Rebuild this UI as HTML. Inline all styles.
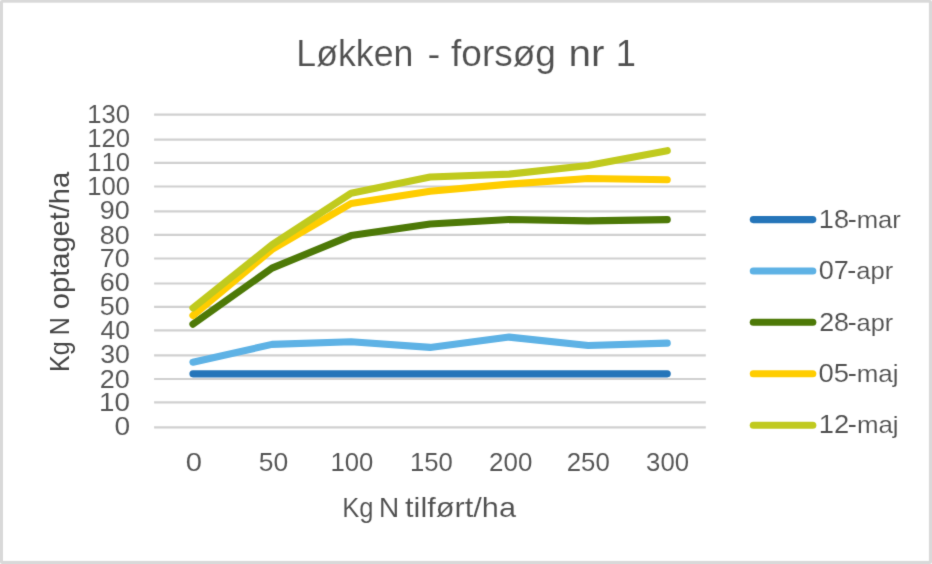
<!DOCTYPE html>
<html lang="da">
<head>
<meta charset="utf-8">
<title>Løkken - forsøg nr 1</title>
<style>
html,body{margin:0;padding:0;background:#ffffff;}
body{width:932px;height:564px;overflow:hidden;font-family:"Liberation Sans",sans-serif;}
svg{display:block;}
</style>
</head>
<body>
<svg width="932" height="564" viewBox="0 0 932 564">
<defs><filter id="soft" filterUnits="userSpaceOnUse" x="-10" y="-10" width="952" height="584" color-interpolation-filters="sRGB"><feConvolveMatrix order="3" kernelMatrix="0.0121 0.0858 0.0121 0.0858 0.6084 0.0858 0.0121 0.0858 0.0121" edgeMode="duplicate" preserveAlpha="true"/></filter></defs>
<g filter="url(#soft)">
<rect x="-10" y="-10" width="952" height="584" fill="#d9d9d9"/>
<rect x="3" y="2.7" width="925.9" height="558.2" fill="#ffffff"/>
<path d="M0 0h1.6L0 1.6zM932 0v1.6L930.4 0zM0 564v-1.6L1.6 564zM932 564h-1.6L932 562.4z" fill="#ffffff"/>
<g stroke="#d0d0d0" stroke-width="2.2" fill="none"><line x1="154.1" x2="705.8" y1="427.45" y2="427.45"/><line x1="154.1" x2="705.8" y1="402.47" y2="402.47"/><line x1="154.1" x2="705.8" y1="379.00" y2="379.00"/><line x1="154.1" x2="705.8" y1="355.44" y2="355.44"/><line x1="154.1" x2="705.8" y1="330.46" y2="330.46"/><line x1="154.1" x2="705.8" y1="306.95" y2="306.95"/><line x1="154.1" x2="705.8" y1="283.50" y2="283.50"/><line x1="154.1" x2="705.8" y1="258.50" y2="258.50"/><line x1="154.1" x2="705.8" y1="234.97" y2="234.97"/><line x1="154.1" x2="705.8" y1="211.47" y2="211.47"/><line x1="154.1" x2="705.8" y1="186.50" y2="186.50"/><line x1="154.1" x2="705.8" y1="162.95" y2="162.95"/><line x1="154.1" x2="705.8" y1="139.55" y2="139.55"/><line x1="154.1" x2="705.8" y1="114.62" y2="114.62"/></g>
<g fill="none" stroke-width="7.1" stroke-linecap="round" stroke-linejoin="round"><polyline points="192.95,373.85 272.00,373.85 351.05,373.85 430.10,373.85 509.15,373.85 588.20,373.85 667.25,373.85" stroke="#2575b9"/><polyline points="192.95,362.20 272.00,344.40 351.05,341.80 430.10,347.40 509.15,337.10 588.20,345.50 667.25,343.10" stroke="#5eb2e5"/><polyline points="192.95,324.15 272.00,268.10 351.05,235.60 430.10,224.00 509.15,219.50 588.20,220.90 667.25,219.60" stroke="#4d7907"/><polyline points="192.95,315.40 272.00,249.50 351.05,203.50 430.10,191.30 509.15,184.10 588.20,178.50 667.25,179.70" stroke="#ffcd00"/><polyline points="192.95,307.90 272.00,244.80 351.05,193.20 430.10,177.00 509.15,174.10 588.20,165.50 667.25,150.70" stroke="#c0ca1e"/></g>
<g fill="none" stroke-width="7.1" stroke-linecap="round"><line x1="753.3" x2="812.8" y1="219.60" y2="219.60" stroke="#2575b9"/><line x1="753.3" x2="812.8" y1="271.00" y2="271.00" stroke="#5eb2e5"/><line x1="753.3" x2="812.8" y1="322.30" y2="322.30" stroke="#4d7907"/><line x1="753.3" x2="812.8" y1="373.75" y2="373.75" stroke="#ffcd00"/><line x1="753.3" x2="812.8" y1="425.20" y2="425.20" stroke="#c0ca1e"/></g>
<g fill="#505050" stroke="#ffffff" font-family="'Liberation Sans', sans-serif" style="font-kerning:none"><text transform="translate(0 65.70)" font-size="36.80" stroke-width="0.147"><tspan x="296.29" textLength="117.06" lengthAdjust="spacingAndGlyphs">Løkken</tspan> <tspan x="427.58" textLength="12.74" lengthAdjust="spacingAndGlyphs">-</tspan> <tspan x="451.00" textLength="104.95" lengthAdjust="spacingAndGlyphs">forsøg</tspan> <tspan x="568.45" textLength="36.05" lengthAdjust="spacingAndGlyphs">nr</tspan> <tspan x="615.74" textLength="20.20" lengthAdjust="spacingAndGlyphs">1</tspan></text>
<text transform="translate(114.39 434.61) scale(1.1083 1)" font-size="25.40" stroke-width="0.051" fill="#555555">0</text>
<text transform="translate(99.01 411.16) scale(1.0931 1)" font-size="25.40" stroke-width="0.051" fill="#555555">10</text>
<text transform="translate(99.87 387.66) scale(1.0615 1)" font-size="25.40" stroke-width="0.051" fill="#555555">20</text>
<text transform="translate(100.15 362.91) scale(1.0514 1)" font-size="25.40" stroke-width="0.051" fill="#555555">30</text>
<text transform="translate(100.42 338.96) scale(1.0415 1)" font-size="25.40" stroke-width="0.051" fill="#555555">40</text>
<text transform="translate(99.87 315.41) scale(1.0615 1)" font-size="25.40" stroke-width="0.051" fill="#555555">50</text>
<text transform="translate(99.87 290.81) scale(1.0615 1)" font-size="25.40" stroke-width="0.051" fill="#555555">60</text>
<text transform="translate(99.87 267.16) scale(1.0615 1)" font-size="25.40" stroke-width="0.051" fill="#555555">70</text>
<text transform="translate(99.87 243.71) scale(1.0615 1)" font-size="25.40" stroke-width="0.051" fill="#555555">80</text>
<text transform="translate(99.87 218.91) scale(1.0615 1)" font-size="25.40" stroke-width="0.051" fill="#555555">90</text>
<text transform="translate(87.18 194.96) scale(1.0089 1)" font-size="25.40" stroke-width="0.051" fill="#555555">100</text>
<text transform="translate(87.18 171.41) scale(1.0089 1)" font-size="25.40" stroke-width="0.051" fill="#555555">110</text>
<text transform="translate(87.18 146.71) scale(1.0089 1)" font-size="25.40" stroke-width="0.051" fill="#555555">120</text>
<text transform="translate(87.18 123.21) scale(1.0089 1)" font-size="25.40" stroke-width="0.051" fill="#555555">130</text>
<text transform="translate(185.65 471.46) scale(1.1500 1)" font-size="25.40" stroke-width="0.051" fill="#555555">0</text>
<text transform="translate(258.70 471.46) scale(1.0423 1)" font-size="25.40" stroke-width="0.051" fill="#555555">50</text>
<text transform="translate(330.48 471.46) scale(1.0115 1)" font-size="25.40" stroke-width="0.051" fill="#555555">100</text>
<text transform="translate(409.88 471.46) scale(1.0115 1)" font-size="25.40" stroke-width="0.051" fill="#555555">150</text>
<text transform="translate(489.02 471.46) scale(1.0225 1)" font-size="25.40" stroke-width="0.051" fill="#555555">200</text>
<text transform="translate(566.73 471.46) scale(1.0150 1)" font-size="25.40" stroke-width="0.051" fill="#555555">250</text>
<text transform="translate(646.09 471.46) scale(1.0137 1)" font-size="25.40" stroke-width="0.051" fill="#555555">300</text>
<text transform="translate(0 516.70)" font-size="27.20" stroke-width="0.109"><tspan x="342.28" textLength="31.32" lengthAdjust="spacingAndGlyphs">Kg</tspan> <tspan x="378.84" textLength="20.56" lengthAdjust="spacingAndGlyphs">N</tspan> <tspan x="405.04" textLength="110.96" lengthAdjust="spacingAndGlyphs">tilført/ha</tspan></text>
<text transform="translate(68.70 370.20) rotate(-90)" font-size="27.20" stroke-width="0.000" fill="#464646"><tspan x="-1.78" textLength="30.82" lengthAdjust="spacingAndGlyphs">Kg</tspan> <tspan x="35.03" textLength="18.03" lengthAdjust="spacingAndGlyphs">N</tspan> <tspan x="61.07" textLength="137.30" lengthAdjust="spacingAndGlyphs">optaget/ha</tspan></text>
<text transform="translate(818.86 227.70) scale(1.0694 1)" font-size="25.40" stroke-width="0.102">18<tspan dx="-1.3">-</tspan><tspan font-size="24.0">mar</tspan></text>
<text transform="translate(818.64 279.10) scale(1.0647 1)" font-size="25.40" stroke-width="0.102">07<tspan dx="-1.3">-</tspan><tspan font-size="24.0">apr</tspan></text>
<text transform="translate(819.18 330.50) scale(1.0569 1)" font-size="25.40" stroke-width="0.102">28<tspan dx="-1.3">-</tspan><tspan font-size="24.0">apr</tspan></text>
<text transform="translate(818.62 382.00) scale(1.0793 1)" font-size="25.40" stroke-width="0.102">05<tspan dx="-1.3">-</tspan><tspan font-size="24.0">maj</tspan></text>
<text transform="translate(818.85 433.30) scale(1.0762 1)" font-size="25.40" stroke-width="0.102">12<tspan dx="-1.3">-</tspan><tspan font-size="24.0">maj</tspan></text></g>
</g>
</svg>
</body>
</html>
